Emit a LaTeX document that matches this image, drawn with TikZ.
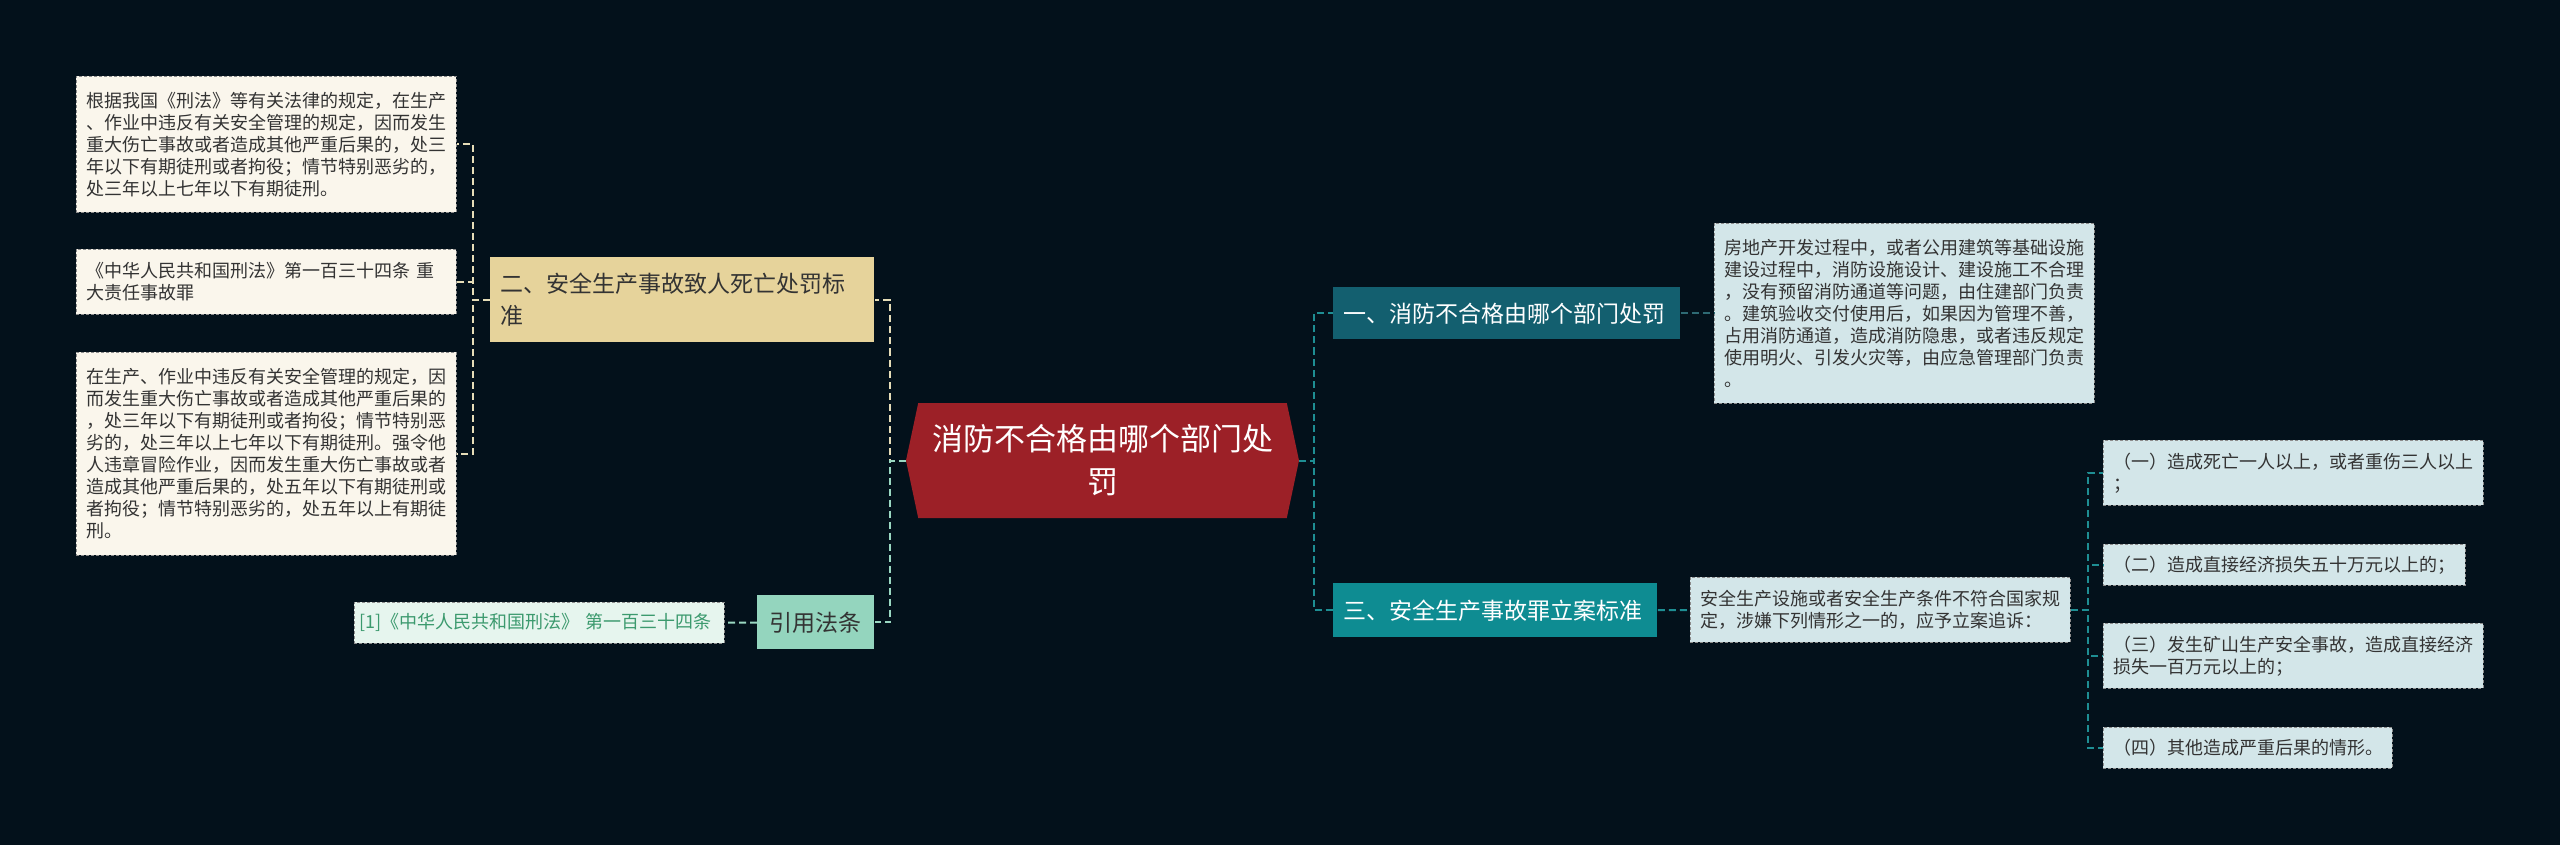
\documentclass[tikz,border=0pt]{standalone}
\usepackage{fontspec}
\setmainfont{Noto Sans CJK SC}
\usetikzlibrary{shapes.symbols}

\definecolor{bgc}{HTML}{03111B}
\definecolor{hubred}{HTML}{9C2027}
\definecolor{onefill}{HTML}{135F6F}
\definecolor{threefill}{HTML}{0E8C92}
\definecolor{tanfill}{HTML}{E6D39B}
\definecolor{mintfill}{HTML}{94D5BE}
\definecolor{citebg}{HTML}{E6F5EE}
\definecolor{citetxt}{HTML}{3C9A6E}
\definecolor{leafbg}{HTML}{FAF6EC}
\definecolor{descbg}{HTML}{D3E6E9}
\definecolor{boxedge}{HTML}{8C8C8C}
\definecolor{ink}{HTML}{333333}
\definecolor{creamline}{HTML}{E6DDB8}
\definecolor{mintline}{HTML}{9AD8C2}
\definecolor{tealline}{HTML}{1E8E93}
\definecolor{darkline}{HTML}{2E6A74}

\begin{document}
\begin{tikzpicture}
[x=0.5pt, y=-0.5pt,
 leaf/.style={anchor=north west, draw=boxedge, dash pattern=on 1.5pt off 1pt,
   fill=leafbg, text=ink, text width=180pt, align=left, inner xsep=5pt,
   font=\fontsize{9}{11}\selectfont},
 desc/.style={leaf, fill=descbg},
 topic/.style={anchor=north west, align=left, inner xsep=5pt,
   font=\fontsize{11.5}{16}\selectfont},
 link/.style={line width=1pt, dash pattern=on 3.5pt off 2pt}]
\fill[bgc] (0,0) rectangle (2560,845);
\useasboundingbox (0,0) rectangle (2560,845);

\node[signal, signal to=east and west, signal pointer angle=156, fill=hubred,
  text=white, minimum width=196.5pt, minimum height=57.5pt, inner sep=0pt,
  align=center, font=\fontsize{15.5}{21.5}\selectfont]
  (hub) at (1102.5,460.5) {消防不合格由哪个部门处\\罚};

\node[topic, fill=tanfill, text=ink, text width=182pt, minimum height=42.5pt]
  (branch 2) at (490,257) {二、安全生产事故致人死亡处罚标\\准};
\node[topic, fill=mintfill, text=ink, minimum width=58.5pt, minimum height=27pt,
  align=center] (law) at (757,595) {引用法条};
\node[leaf, fill=citebg, text=citetxt, text width=180pt, inner xsep=2.5pt,
  minimum height=20.5pt]
  (law ref) at (354,602) {[1]《中华人民共和国刑法》~第一百三十四条};

\foreach \i/\y/\h/\t in {
  1/76/68/{根据我国《刑法》等有关法律的规定，在生产\\、作业中违反有关安全管理的规定，因而发生\\重大伤亡事故或者造成其他严重后果的，处三\\年以下有期徒刑或者拘役；情节特别恶劣的，\\处三年以上七年以下有期徒刑。},
  2/249/32.5/{《中华人民共和国刑法》第一百三十四条 重\\大责任事故罪},
  3/352/101.5/{在生产、作业中违反有关安全管理的规定，因\\而发生重大伤亡事故或者造成其他严重后果的\\，处三年以下有期徒刑或者拘役；情节特别恶\\劣的，处三年以上七年以下有期徒刑。强令他\\人违章冒险作业，因而发生重大伤亡事故或者\\造成其他严重后果的，处五年以下有期徒刑或\\者拘役；情节特别恶劣的，处五年以上有期徒\\刑。}}{
  \node[leaf, minimum height=\h pt] (leaf \i) at (76,\y) {\t};
  \draw[link, creamline] (branch 2.west) -- ++(-17,0) |- (leaf \i.east);
}

\node[topic, fill=onefill, text=white, text width=163.5pt, minimum height=26pt]
  (branch 1) at (1333,287) {一、消防不合格由哪个部门处罚};
\node[topic, fill=threefill, text=white, text width=152pt, minimum height=27pt]
  (branch 3) at (1333,583) {三、安全生产事故罪立案标准};
\node[desc, minimum height=90pt] (note 1) at (1714,223)
  {房地产开发过程中，或者公用建筑等基础设施\\建设过程中，消防设施设计、建设施工不合理\\，没有预留消防通道等问题，由住建部门负责\\。建筑验收交付使用后，如果因为管理不善，\\占用消防通道，造成消防隐患，或者违反规定\\使用明火、引发火灾等，由应急管理部门负责\\。};
\node[desc, minimum height=32.5pt] (note 3) at (1690,577)
  {安全生产设施或者安全生产条件不符合国家规\\定，涉嫌下列情形之一的，应予立案追诉：};

\foreach \i/\y/\h/\w/\t in {
  1/440/32.5/180/{（一）造成死亡一人以上，或者重伤三人以上\\；},
  2/544/20.5/171/{（二）造成直接经济损失五十万元以上的；},
  3/623/32.5/180/{（三）发生矿山生产安全事故，造成直接经济\\损失一百万元以上的；},
  4/727/20.5/134.5/{（四）其他造成严重后果的情形。}}{
  \node[desc, text width=\w pt, minimum height=\h pt] (item \i) at (2103,\y) {\t};
  \draw[link, tealline] (note 3.east) -- ++(17,0) |- (item \i.west);
}

\draw[link, creamline] (hub.west) -- ++(-16,0) |- (branch 2.east);
\draw[link, mintline] (hub.west) -- ++(-16,0) |- (law.east);
\draw[link, mintline] (law) -- (law ref);
\draw[link, tealline] (hub.east) -- ++(15,0) |- (branch 1.west);
\draw[link, tealline] (hub.east) -- ++(15,0) |- (branch 3.west);
\draw[link, darkline] (branch 1) -- (note 1);
\draw[link, tealline] (branch 3) -- (note 3);
\end{tikzpicture}
\end{document}
